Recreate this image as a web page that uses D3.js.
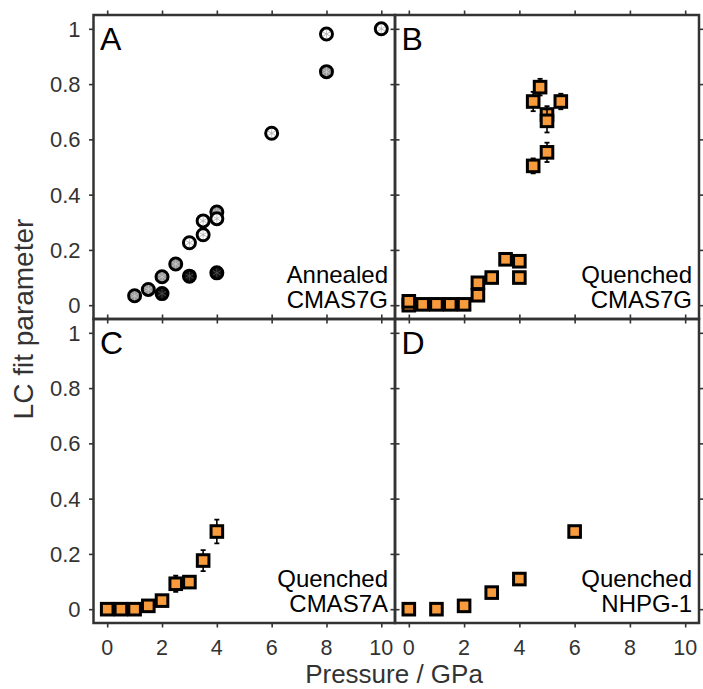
<!DOCTYPE html>
<html>
<head>
<meta charset="utf-8">
<script src="https://cdn.jsdelivr.net/npm/d3@7/dist/d3.min.js"></script>
<style>
  html, body { margin: 0; padding: 0; background: #fff; }
  svg { display: block; font-family: "Liberation Sans", Arial, Helvetica, sans-serif; }
</style>
</head>
<body>
<svg id="chart" width="703" height="689"></svg>
<script>
// ---------- data ----------
const xTicks = [0, 2, 4, 6, 8, 10];
const yTicks = [0, 0.2, 0.4, 0.6, 0.8, 1];
const yTickLabels = ["0", "0.2", "0.4", "0.6", "0.8", "1"];

// Panel A: Annealed CMAS7G (three series of circles)
const aGreyP = [8, 4, 2.5, 2, 1.5, 1];
const aGreyV = [0.845, 0.337, 0.149, 0.103, 0.057, 0.034];
const aBlackP = [2, 3, 4];
const aBlackV = [0.042, 0.105, 0.117];
const aWhiteP = [10, 8, 6, 4, 3.5, 3.5, 3];
const aWhiteV = [1.0, 0.981, 0.622, 0.313, 0.305, 0.255, 0.226];

// Panel B: Quenched CMAS7G
const bP   = [0, 0, 0.5, 1, 1.5, 2, 2.5, 2.5, 3, 3.5, 4, 4, 4.5, 4.5, 4.75, 5, 5, 5, 5.5];
const bV   = [0.0, 0.014, 0.003, 0.003, 0.003, 0.003, 0.036, 0.081, 0.1, 0.166, 0.159, 0.1, 0.504, 0.737, 0.789, 0.69, 0.667, 0.553, 0.737];
const bErr = [0.01, 0.01, 0.005, 0.005, 0.005, 0.005, 0.01, 0.01, 0.01, 0.01, 0.01, 0.01, 0.027, 0.035, 0.03, 0.03, 0.042, 0.035, 0.028];

// Panel C: Quenched CMAS7A
const cP   = [0, 0.5, 1, 1.5, 2, 2.5, 3, 3.5, 4];
const cV   = [0, 0, 0, 0.012, 0.031, 0.092, 0.098, 0.176, 0.281];
const cErr = [0.005, 0.005, 0.005, 0.005, 0.008, 0.029, 0.01, 0.038, 0.043];

// Panel D: Quenched NHPG-1
const dP   = [0, 1, 2, 3, 4, 6];
const dV   = [0, 0, 0.012, 0.06, 0.109, 0.281];
const dErr = [0, 0, 0, 0, 0, 0];

// ---------- layout ----------
const svg = d3.select("#chart");
const L = 93.5, M = 395, R = 699, T = 15, MID = 319, B = 623;
const frameColor = "#333";
const orange = "#F89B3C";

const panels = [
  { id: "A", x0: L, x1: M, y0: T, y1: MID, label: ["Annealed", "CMAS7G"], left: true, bottom: false },
  { id: "B", x0: M, x1: R, y0: T, y1: MID, label: ["Quenched", "CMAS7G"], left: false, bottom: false },
  { id: "C", x0: L, x1: M, y0: MID, y1: B, label: ["Quenched", "CMAS7A"], left: true, bottom: true },
  { id: "D", x0: M, x1: R, y0: MID, y1: B, label: ["Quenched", "NHPG-1"], left: false, bottom: true }
];

panels.forEach(p => {
  p.x = d3.scaleLinear().domain([-0.5, 10.5]).range([p.x0, p.x1]);
  p.y = d3.scaleLinear().domain([-0.05, 1.05]).range([p.y1, p.y0]);
});

// ticks (outward on all four sides)
panels.forEach(p => {
  const g = svg.append("g");
  const tl = 4.5;
  const axB = d3.axisBottom(p.x).tickValues(xTicks).tickSize(tl).tickFormat("");
  const axT = d3.axisTop(p.x).tickValues(xTicks).tickSize(tl).tickFormat("");
  const axL = d3.axisLeft(p.y).tickValues(yTicks).tickSize(tl).tickFormat("");
  const axR = d3.axisRight(p.y).tickValues(yTicks).tickSize(tl).tickFormat("");
  [[axB, `translate(0,${p.y1})`], [axT, `translate(0,${p.y0})`], [axL, `translate(${p.x0},0)`], [axR, `translate(${p.x1},0)`]]
    .forEach(([ax, tr]) => {
      const a = g.append("g").attr("transform", tr).call(ax);
      a.select(".domain").remove();
      a.selectAll("line").attr("stroke", frameColor).attr("stroke-width", 1.6);
    });
  // tick labels
  if (p.bottom) {
    g.selectAll(".xl").data(xTicks).enter().append("text")
      .attr("x", d => p.x(d)).attr("y", p.y1 + 32)
      .attr("text-anchor", "middle").attr("font-size", 21.5).attr("fill", "#333")
      .text(d => d);
  }
  if (p.left) {
    g.selectAll(".yl").data(yTicks).enter().append("text")
      .attr("x", p.x0 - 13).attr("y", d => p.y(d))
      .attr("dy", "0.36em")
      .attr("text-anchor", "end").attr("font-size", 22).attr("fill", "#333")
      .text((d, i) => yTickLabels[i]);
  }
});

// marks
function clipFor(p) {
  const id = "clip" + p.id;
  svg.append("clipPath").attr("id", id).append("rect")
    .attr("x", p.x0).attr("y", p.y0).attr("width", p.x1 - p.x0).attr("height", p.y1 - p.y0);
  return svg.append("g").attr("clip-path", `url(#${id})`);
}

function drawCircles(g, p, P, V, fill, inner) {
  const sel = g.selectAll(null).data(P.map((d, i) => [d, V[i]])).enter().append("g")
    .attr("transform", d => `translate(${p.x(d[0])},${p.y(d[1])})`);
  sel.append("circle").attr("r", 6).attr("fill", fill).attr("stroke", "#000").attr("stroke-width", 3);
  [0, 60, 120].forEach(ang => {
    sel.append("line").attr("x1", -4.5).attr("x2", 4.5).attr("y1", 0).attr("y2", 0)
      .attr("transform", `rotate(${ang + 90})`)
      .attr("stroke", inner).attr("stroke-width", 0.7);
  });
}

function drawSquares(g, p, P, V, E) {
  const data = P.map((d, i) => [d, V[i], E[i]]);
  data.forEach(d => {
    const cx = p.x(d[0]);
    const item = g.append("g");
    if (d[2] > 0) {
      const yt = p.y(d[1] + d[2]), yb = p.y(d[1] - d[2]);
      item.append("line").attr("x1", cx).attr("x2", cx).attr("y1", yt).attr("y2", yb)
        .attr("stroke", "#000").attr("stroke-width", 1.6);
      [yt, yb].forEach(yy => item.append("line").attr("x1", cx - 2.5).attr("x2", cx + 2.5)
        .attr("y1", yy).attr("y2", yy).attr("stroke", "#000").attr("stroke-width", 1.8));
    }
    item.append("rect").attr("x", cx - 5.8).attr("y", p.y(d[1]) - 5.8)
      .attr("width", 11.6).attr("height", 11.6)
      .attr("fill", orange).attr("stroke", "#000").attr("stroke-width", 3);
  });
}

const gA = clipFor(panels[0]);
drawCircles(gA, panels[0], aGreyP, aGreyV, "#999", "#ccc");
drawCircles(gA, panels[0], aBlackP, aBlackV, "#111", "#555");
drawCircles(gA, panels[0], aWhiteP, aWhiteV, "#fff", "#aaa");

drawSquares(clipFor(panels[1]), panels[1], bP, bV, bErr);
drawSquares(clipFor(panels[2]), panels[2], cP, cV, cErr);
drawSquares(clipFor(panels[3]), panels[3], dP, dV, dErr);

// frames
panels.forEach(p => {
  svg.append("rect").attr("x", p.x0).attr("y", p.y0)
    .attr("width", p.x1 - p.x0).attr("height", p.y1 - p.y0)
    .attr("fill", "none").attr("stroke", frameColor).attr("stroke-width", 2.5);
});

// panel texts
panels.forEach(p => {
  svg.append("text").attr("x", p.x0 + 6.5).attr("y", p.y0 + 35)
    .attr("font-size", 32).attr("fill", "#000").text(p.id);
  svg.append("text").attr("x", p.x1 - 7).attr("y", p.y1 - 36)
    .attr("text-anchor", "end").attr("font-size", 24).attr("fill", "#000").text(p.label[0]);
  svg.append("text").attr("x", p.x1 - 7).attr("y", p.y1 - 11.5)
    .attr("text-anchor", "end").attr("font-size", 24).attr("fill", "#000").text(p.label[1]);
});

// axis titles
svg.append("text").attr("x", 394).attr("y", 683)
  .attr("text-anchor", "middle").attr("font-size", 26).attr("fill", "#333")
  .text("Pressure / GPa");
svg.append("text").attr("transform", "translate(33,319) rotate(-90)")
  .attr("text-anchor", "middle").attr("font-size", 28).attr("fill", "#333")
  .text("LC fit parameter");
</script>
</body>
</html>
